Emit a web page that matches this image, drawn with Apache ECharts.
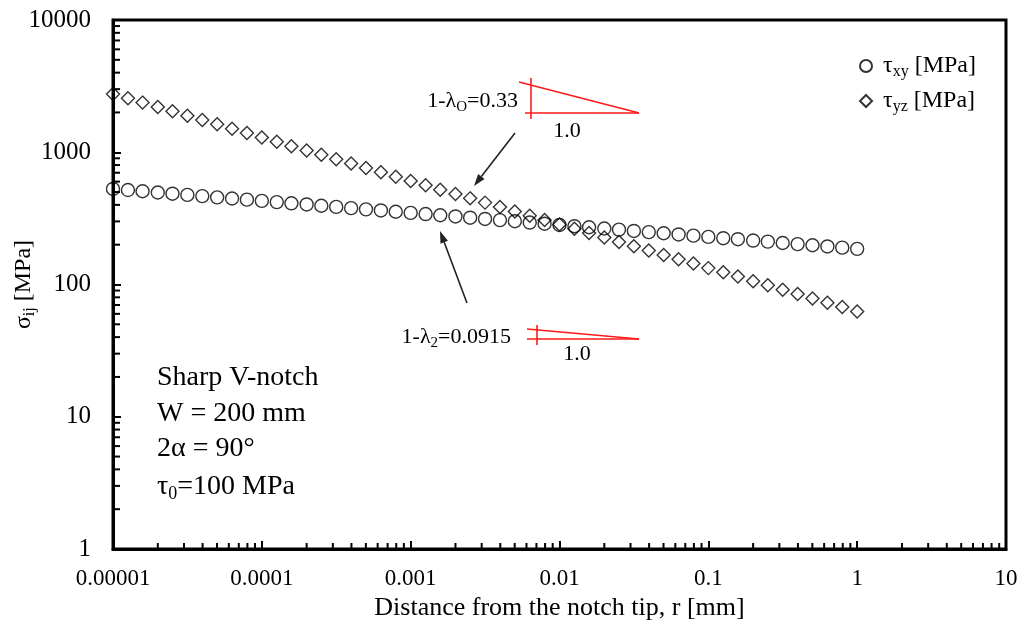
<!DOCTYPE html>
<html><head><meta charset="utf-8">
<script src="https://cdn.jsdelivr.net/npm/echarts@6/dist/echarts.min.js"></script>
<style>html,body{margin:0;padding:0;background:#fff}#c{width:1021px;height:633px}</style>
</head><body><div id="c"></div>
<script>
// ---- data ----
const rValues = [
  1e-5,1.26e-5,1.58e-5,2e-5,2.51e-5,3.16e-5,3.98e-5,5.01e-5,6.31e-5,7.94e-5,
  1e-4,1.26e-4,1.58e-4,2e-4,2.51e-4,3.16e-4,3.98e-4,5.01e-4,6.31e-4,7.94e-4,
  1e-3,1.26e-3,1.58e-3,2e-3,2.51e-3,3.16e-3,3.98e-3,5.01e-3,6.31e-3,7.94e-3,
  1e-2,1.26e-2,1.58e-2,2e-2,2.51e-2,3.16e-2,3.98e-2,5.01e-2,6.31e-2,7.94e-2,
  0.1,0.126,0.158,0.2,0.251,0.316,0.398,0.501,0.631,0.794,
  1
];
const tauXY = [
  528,518,507,496,486,476,466,456,447,438,
  429,420,411,403,394,386,378,370,363,355,
  348,341,334,327,320,313,307,301,294,288,
  282,276,271,265,260,254,249,244,239,234,
  229,224,220,215,211,206,202,198,194,190,
  186
];
const tauYZ = [
  2761,2560,2373,2200,2040,1890,1752,1625,1506,1396,
  1294,1200,1112,1031,956,886,821,761,706,654,
  607,562,521,483,448,416,385,357,331,307,
  284,264,245,227,210,195,181,167,155,144,
  133,124,115,106,98.6,91.3,84.7,78.5,72.8,67.5,
  62.5
];
const xTickLabels = ['0.00001','0.0001','0.001','0.01','0.1','1','10'];
const yTickLabels = ['1','10','100','1000','10000'];
const seriesNames = ['τxy [MPa]','τyz [MPa]'];
const xDecades = [-5,-4,-3,-2,-1,0];
const yDecades = [0,1,2,3];
const minorMultipliers = [2,3,4,5,6,7,8,9];

// ---- chart ----
const FONT = '"Liberation Serif","Times New Roman",serif';
const xMinor = [], yMinor = [];
xDecades.forEach(d => minorMultipliers.forEach(m => xMinor.push([m*Math.pow(10,d), 1])));
yDecades.forEach(d => minorMultipliers.forEach(m => yMinor.push([1e-5, m*Math.pow(10,d)])));

function tickRender(dir){
  return function(params, api){
    const p = api.coord([api.value(0), api.value(1)]);
    const shape = dir === 'x' ? {x1:p[0], y1:p[1], x2:p[0], y2:p[1]-6} : {x1:p[0], y1:p[1], x2:p[0]+7, y2:p[1]};
    return {type:'line', shape, style:{stroke:'#000', lineWidth:2}};
  };
}

function arrow(x1,y1,x2,y2){
  const ang = Math.atan2(y2-y1, x2-x1), L = 12, W = 4;
  const bx = x2 - L*Math.cos(ang), by = y2 - L*Math.sin(ang);
  const nx = -Math.sin(ang)*W, ny = Math.cos(ang)*W;
  return [
    {type:'line', shape:{x1, y1, x2:bx, y2:by}, style:{stroke:'#222', lineWidth:1.6}},
    {type:'polygon', shape:{points:[[x2,y2],[bx+nx,by+ny],[bx-nx,by-ny]]}, style:{fill:'#222'}}
  ];
}
const red = {stroke:'#ff1a1a', lineWidth:1.6};
const smallRich = {
  a:{fontFamily:FONT, fontSize:22, fill:'#000', color:'#000'},
  s:{fontFamily:FONT, fontSize:15, fill:'#000', color:'#000', padding:[12,0,0,0]}
};
const bigRich = {
  a:{fontFamily:FONT, fontSize:28, fill:'#000', color:'#000'},
  s:{fontFamily:FONT, fontSize:18, fill:'#000', color:'#000', padding:[14,0,0,0]}
};

const graphics = [
  // slope triangle 1
  {type:'line', shape:{x1:531, y1:78, x2:531, y2:119}, style:red},
  {type:'line', shape:{x1:525, y1:113, x2:639, y2:113}, style:red},
  {type:'line', shape:{x1:519, y1:82, x2:639, y2:113}, style:red},
  {type:'text', style:{x:567, y:131, text:'1.0', font:'22px '+FONT, fill:'#000', align:'center', verticalAlign:'middle'}},
  {type:'text', style:{x:518, y:101, text:'{a|1-λ}{s|O}{a|=0.33}', rich:smallRich, align:'right', verticalAlign:'middle'}},
  // slope triangle 2
  {type:'line', shape:{x1:537, y1:325, x2:537, y2:345}, style:red},
  {type:'line', shape:{x1:527, y1:339, x2:639, y2:339}, style:red},
  {type:'line', shape:{x1:527, y1:329, x2:639, y2:339}, style:red},
  {type:'text', style:{x:577, y:354, text:'1.0', font:'22px '+FONT, fill:'#000', align:'center', verticalAlign:'middle'}},
  {type:'text', style:{x:511, y:337, text:'{a|1-λ}{s|2}{a|=0.0915}', rich:smallRich, align:'right', verticalAlign:'middle'}},
  // arrows
  ...arrow(515,133,474,186),
  ...arrow(467,303,440,231),
  // info block
  {type:'text', style:{x:157, y:378, text:'Sharp V-notch', font:'28px '+FONT, fill:'#000', verticalAlign:'middle'}},
  {type:'text', style:{x:157, y:414, text:'W = 200 mm', font:'28px '+FONT, fill:'#000', verticalAlign:'middle'}},
  {type:'text', style:{x:157, y:449, text:'2α = 90°', font:'28px '+FONT, fill:'#000', verticalAlign:'middle'}},
  {type:'text', style:{x:157, y:487, text:'{a|τ}{s|0}{a|=100 MPa}', rich:bigRich, verticalAlign:'middle'}}
];

const chart = echarts.init(document.getElementById('c'));
chart.setOption({
  animation:false,
  backgroundColor:'#fff',
  grid:{left:113, right:15, top:20, bottom:84, show:true, borderColor:'#000', borderWidth:3,
        containLabel:false, outerBoundsMode:'none'},
  xAxis:{
    type:'log', logBase:10, min:1e-5, max:10,
    axisLine:{show:true, lineStyle:{color:'#000', width:3}},
    axisTick:{show:true, inside:true, length:8, lineStyle:{color:'#000', width:2}},
    splitLine:{show:false},
    axisLabel:{margin:18, fontFamily:FONT, fontSize:23, color:'#000',
      formatter: v => xTickLabels[Math.round(Math.log10(v)) + 5]},
    name:'Distance from the notch tip, r [mm]', nameLocation:'middle', nameGap:46,
    nameMoveOverlap:false,
    nameTextStyle:{fontFamily:FONT, fontSize:26, color:'#000'}
  },
  yAxis:{
    type:'log', logBase:10, min:1, max:10000,
    axisLine:{show:true, lineStyle:{color:'#000', width:3}},
    axisTick:{show:true, inside:true, length:8, lineStyle:{color:'#000', width:2}},
    splitLine:{show:false},
    axisLabel:{margin:22, fontFamily:FONT, fontSize:25, color:'#000',
      formatter: v => yTickLabels[Math.round(Math.log10(v))]},
    name:'{a|σ}{s|ij}{a| [MPa]}', nameLocation:'middle', nameGap:75,
    nameMoveOverlap:false,
    nameTextStyle:{rich:{
      a:{fontFamily:FONT, fontSize:24, color:'#000'},
      s:{fontFamily:FONT, fontSize:16, color:'#000', padding:[12,0,0,0]}
    }}
  },
  legend:{
    orient:'vertical', left:854, top:49, itemWidth:12, itemHeight:12, itemGap:9,
    data:seriesNames,
    formatter: n => n === seriesNames[0] ? '{t|τ}{s|xy}{t| [MPa]}' : '{t|τ}{s|yz}{t| [MPa]}',
    textStyle:{rich:{
      t:{fontFamily:FONT, fontSize:24, color:'#000'},
      s:{fontFamily:FONT, fontSize:16, color:'#000', padding:[12,0,0,0]}
    }, padding:[0,0,0,6]}
  },
  series:[
    {name:seriesNames[0], type:'scatter', symbol:'circle', symbolSize:13,
     itemStyle:{color:'rgba(0,0,0,0)', borderColor:'#000', borderWidth:1.4},
     data: rValues.map((r,i) => [r, tauXY[i]])},
    {name:seriesNames[1], type:'scatter', symbol:'diamond', symbolSize:13,
     itemStyle:{color:'rgba(0,0,0,0)', borderColor:'#000', borderWidth:1.4},
     data: rValues.map((r,i) => [r, tauYZ[i]])},
    {type:'custom', silent:true, clip:false, renderItem:tickRender('x'), data:xMinor, z:5},
    {type:'custom', silent:true, clip:false, renderItem:tickRender('y'), data:yMinor, z:5}
  ],
  graphic: graphics
});
</script></body></html>
